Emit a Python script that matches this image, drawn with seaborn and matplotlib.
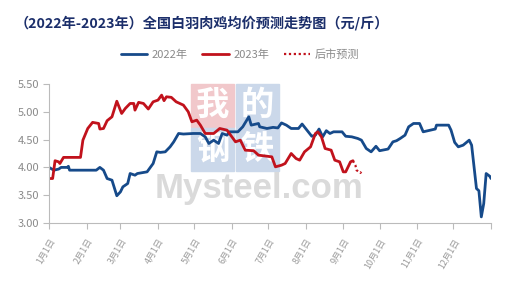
import matplotlib
matplotlib.use("Agg")
import matplotlib.pyplot as plt
import seaborn as sns
import pandas as pd
from matplotlib.patches import Rectangle
from matplotlib.lines import Line2D

# ---- data (day of year, price 元/斤) ----
days_2022 = [0, 4, 8, 10, 15, 16, 17, 39, 42, 45, 48, 52, 56, 59, 61, 65, 67, 71, 73, 81,
             83, 86, 89, 92, 96, 100, 103, 107, 111, 119, 125, 129, 132, 136, 140, 143, 147,
             149, 156, 160, 165, 167, 173, 174, 180, 185, 189, 192, 196, 200, 206, 209, 213,
             217, 220, 223, 226, 229, 232, 235, 242, 245, 250, 255, 258, 262, 266, 270, 273,
             280, 284, 287, 290, 294, 297, 301, 306, 309, 315, 319, 320, 330, 332, 335, 338,
             342, 347, 349, 353, 355, 357, 359, 361, 364, 365]
price_2022 = [4.00, 3.95, 3.97, 4.00, 4.00, 4.02, 3.95, 3.95, 4.00, 3.95, 3.80, 3.77, 3.49,
              3.56, 3.65, 3.71, 3.89, 3.86, 3.89, 3.92, 3.98, 4.07, 4.28, 4.27, 4.28, 4.37,
              4.46, 4.61, 4.60, 4.61, 4.61, 4.55, 4.43, 4.49, 4.43, 4.61, 4.58, 4.64, 4.64,
              4.73, 4.91, 4.76, 4.79, 4.73, 4.70, 4.72, 4.71, 4.80, 4.76, 4.70, 4.70, 4.78,
              4.67, 4.56, 4.58, 4.69, 4.55, 4.66, 4.61, 4.64, 4.64, 4.56, 4.55, 4.52, 4.49,
              4.34, 4.28, 4.38, 4.30, 4.33, 4.46, 4.48, 4.52, 4.58, 4.73, 4.79, 4.79, 4.64,
              4.67, 4.69, 4.76, 4.76, 4.67, 4.45, 4.37, 4.40, 4.49, 4.40, 3.62, 3.58, 3.11,
              3.35, 3.89, 3.84, 3.80]

days_2023 = [0, 3, 5, 8, 9, 12, 26, 28, 32, 36, 41, 42, 45, 48, 52, 56, 60, 63, 67, 70, 71,
             74, 78, 82, 86, 90, 93, 95, 97, 101, 105, 111, 115, 118, 122, 125, 129, 136, 141,
             147, 149, 154, 158, 162, 169, 173, 184, 187, 192, 195, 200, 204, 207, 211, 216,
             220, 222, 225, 228, 233, 236, 240, 243, 245, 249, 251]
price_2023 = [3.80, 3.80, 4.12, 4.10, 4.07, 4.18, 4.18, 4.49, 4.70, 4.81, 4.79, 4.69, 4.70,
              4.84, 4.91, 5.19, 4.97, 5.06, 5.15, 5.15, 5.03, 5.17, 5.15, 5.05, 5.18, 5.21,
              5.30, 5.20, 5.27, 5.26, 5.18, 5.12, 5.00, 4.82, 4.85, 4.76, 4.61, 4.61, 4.70,
              4.67, 4.61, 4.46, 4.49, 4.31, 4.30, 4.22, 4.19, 4.01, 4.04, 4.07, 4.25, 4.16,
              4.13, 4.28, 4.37, 4.61, 4.64, 4.55, 4.34, 4.31, 4.13, 4.10, 3.92, 3.92, 4.10,
              4.12]

days_fc = [251, 253, 254, 257, 258]
price_fc = [4.12, 4.04, 3.95, 3.90, 3.92]

tick_days = [0, 31, 59, 90, 120, 151, 181, 212, 243, 273, 304, 334, 365]
tick_labels = ["1月1日", "2月1日", "3月1日", "4月1日", "5月1日", "6月1日", "7月1日",
               "8月1日", "9月1日", "10月1日", "11月1日", "12月1日"]

title = "（2022年-2023年）全国白羽肉鸡均价预测走势图（元/斤）"
legend_labels = ["2022年", "2023年", "后市预测"]

# ---- style ----
sns.set_theme(style="white")
plt.rcParams["font.family"] = ["Noto Sans CJK SC", "DejaVu Sans"]

BLUE = "#164a8a"
RED = "#c1121c"
GRAY = "#8a8a8a"

fig = plt.figure(figsize=(5.22, 2.96), dpi=100)
ax = fig.add_axes([49 / 522, 1 - 223 / 296, 442 / 522, 139 / 296])

# watermark
wm_boxes = [(191, 84, "#f1c8cb", "我"), (236, 84, "#cbd8ea", "的"),
            (191, 128, "#cbd8ea", "钢"), (236, 128, "#cbd8ea", "铁")]
for bx, by, col, ch in wm_boxes:
    fig.patches.append(Rectangle((bx / 522, 1 - (by + 43) / 296), 43 / 522, 43 / 296,
                                 transform=fig.transFigure, color=col, zorder=0))
    fig.text((bx + 21.5) / 522, 1 - (by + 21.5) / 296, ch, ha="center", va="center",
             fontsize=24, color="white", zorder=0, fontweight="bold")
fig.text(259 / 522, 1 - 198 / 296, "Mysteel.com", ha="center", va="baseline",
         fontsize=25, color="#dadada", fontweight="bold", zorder=0,
         family=["Liberation Sans"])
ax.set_facecolor("none")
ax.set_zorder(2)

df22 = pd.DataFrame({"day": days_2022, "price": price_2022})
df23 = pd.DataFrame({"day": days_2023, "price": price_2023})
dffc = pd.DataFrame({"day": days_fc, "price": price_fc})

sns.lineplot(data=df22, x="day", y="price", ax=ax, color=BLUE, linewidth=2.0)
sns.lineplot(data=df23, x="day", y="price", ax=ax, color=RED, linewidth=2.0)
sns.lineplot(data=dffc, x="day", y="price", ax=ax, color=RED, linewidth=1.6,
             linestyle=(0, (1, 1.2)))

ax.set_xlim(0, 365)
ax.set_ylim(3.0, 5.5)
ax.set_yticks([3.0, 3.5, 4.0, 4.5, 5.0, 5.5])
ax.set_yticklabels([f"{v:.2f}" for v in [3.0, 3.5, 4.0, 4.5, 5.0, 5.5]],
                   fontsize=8, color=GRAY)
ax.set_xticks(tick_days)
ax.set_xticklabels(tick_labels + [""], rotation=60, ha="right",
                   rotation_mode="anchor", fontsize=6.5, color="#999999")
ax.tick_params(axis="both", length=4, width=0.8, color="#bbbbbb", direction="out",
               left=True, bottom=True, pad=3)
ax.tick_params(axis="x", pad=6)
ax.set_xlabel("")
ax.set_ylabel("")
for s in ["top", "right"]:
    ax.spines[s].set_visible(False)
for s in ["left", "bottom"]:
    ax.spines[s].set_color("#bbbbbb")
    ax.spines[s].set_linewidth(0.8)

fig.text(15 / 522, 1 - 23 / 296, title, ha="left", va="center", fontsize=10.2,
         fontweight="bold", color="#1c2f6b")

handles = [Line2D([], [], color=BLUE, lw=2),
           Line2D([], [], color=RED, lw=2),
           Line2D([], [], color=RED, lw=1.6, linestyle=(0, (1, 1.2)))]
fig.legend(handles, legend_labels, loc="center", bbox_to_anchor=(240 / 522, 1 - 55 / 296),
           ncol=3, frameon=False, fontsize=8, labelcolor=GRAY, handlelength=2.4,
           columnspacing=1.3, handletextpad=0.4)

fig.savefig("out.png", dpi=100)
